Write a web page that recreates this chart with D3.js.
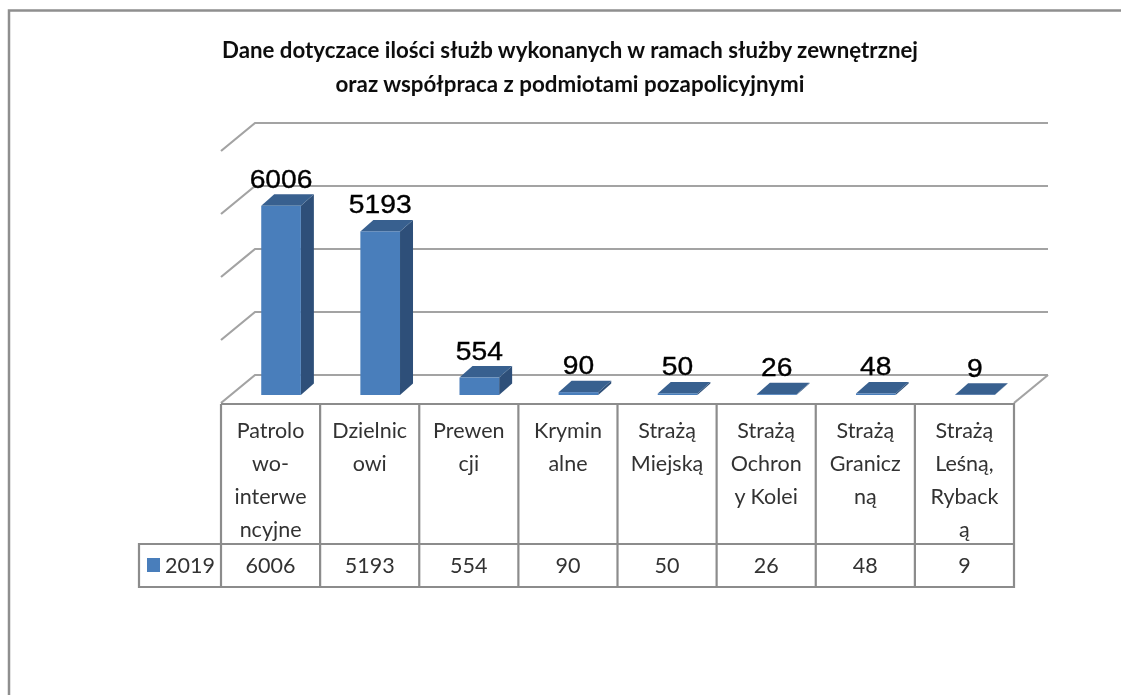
<!DOCTYPE html>
<html>
<head>
<meta charset="utf-8">
<script src="https://cdn.jsdelivr.net/npm/d3@7"></script>
<style>
    html, body { margin: 0; padding: 0; background: #fff; }
    svg { display: block; }
</style>
</head>
<body>
<script>
const categories = ["Patrolowo-interwencyjne", "Dzielnicowi", "Prewencji", "Kryminalne", "Strażą Miejską", "Strażą Ochrony Kolei", "Strażą Graniczną", "Strażą Leśną, Rybacką"];
const categoryLines = [
    ["Patrolo", "wo-", "interwe", "ncyjne"],
    ["Dzielnic", "owi"],
    ["Prewen", "cji"],
    ["Krymin", "alne"],
    ["Strażą", "Miejską"],
    ["Strażą", "Ochron", "y Kolei"],
    ["Strażą", "Granicz", "ną"],
    ["Strażą", "Leśną,", "Ryback", "ą"]
];
const values2019 = [6006, 5193, 554, 90, 50, 26, 48, 9];
const seriesName = "2019";
const titleLines = [
    "Dane dotyczace ilości służb wykonanych w ramach służby zewnętrznej",
    "oraz współpraca z podmiotami pozapolicyjnymi"
];
const gridValues = [0, 2000, 4000, 6000, 8000];

const width = 1121, height = 695;
const gridColor = "#a3a3a3", tableColor = "#8c8c8c";
const frontColor = "#4a7ebb", sideColor = "#2f5079", topColor = "#38608f";

const svg = d3.select("body").append("svg")
    .attr("width", width)
    .attr("height", height);

// the reference is a slightly soft scan
svg.append("filter")
    .attr("id", "soft")
    .attr("filterUnits", "userSpaceOnUse")
    .attr("x", 0).attr("y", 0)
    .attr("width", width).attr("height", height)
    .append("feGaussianBlur").attr("stdDeviation", 0.7);

const root = svg.append("g").attr("filter", "url(#soft)");

// scales
const tableX = d3.scaleBand().domain(categories).range([221, 1014]);
const barX = d3.scaleBand().domain(categories).range([231.5, 1024.5]).paddingInner(0.6).paddingOuter(0.3);
const wallY = d3.scaleLinear().domain([0, 8000]).range([375, 123]);
const barY = d3.scaleLinear().domain([0, 8000]).range([395, 143]);

const depthX = 34, depthY = -28;   // floor depth
const barDepthX = 13, barDepthY = -11.5;

// chart frame (only top and left are in the picture)
root.append("path")
    .attr("d", `M9,${height}V10.5H${width}`)
    .attr("fill", "none")
    .attr("stroke", "#8f8f8f")
    .attr("stroke-width", 2.5);

// title
root.selectAll(".title")
    .data(titleLines)
    .join("text")
    .attr("class", "title")
    .attr("x", 570)
    .attr("y", (d, i) => 58 + i * 33.5)
    .attr("text-anchor", "middle")
    .attr("font-family", "Lato")
    .attr("font-weight", 700)
    .attr("font-size", 22)
    .attr("fill", "#111")
    .attr("textLength", (d, i) => i === 0 ? 696 : 469)
    .attr("lengthAdjust", "spacingAndGlyphs")
    .text(d => d);

// gridlines on the wall + side wall diagonals
const x0 = tableX.range()[0], x1 = tableX.range()[1];
root.selectAll(".grid")
    .data(gridValues)
    .join("path")
    .attr("class", "grid")
    .attr("d", d => `M${x0},${wallY(d) - depthY}L${x0 + depthX},${wallY(d)}H${x1 + depthX}`)
    .attr("fill", "none")
    .attr("stroke", gridColor)
    .attr("stroke-width", 2.2);

// right edge of the floor
root.append("path")
    .attr("d", `M${x1 + depthX},${wallY(0)}L${x1},${wallY(0) - depthY}`)
    .attr("stroke", gridColor)
    .attr("stroke-width", 2.2);

// 3d bars
const bars = root.selectAll(".bar")
    .data(categories)
    .join("g")
    .attr("class", "bar");

bars.append("path") //side
    .attr("d", (d, i) => {
        const r = barX(d) + barX.bandwidth();
        const t = barY(values2019[i]), b = barY(0);
        return `M${r},${b}V${t}l${barDepthX},${barDepthY}V${b + barDepthY}Z`;
    })
    .attr("fill", sideColor);

bars.append("path") //top
    .attr("d", (d, i) => {
        const t = barY(values2019[i]);
        return `M${barX(d)},${t}l${barDepthX},${barDepthY}h${barX.bandwidth()}l${-barDepthX},${-barDepthY}Z`;
    })
    .attr("fill", topColor);

bars.append("rect") //front
    .attr("x", d => barX(d))
    .attr("y", (d, i) => barY(values2019[i]))
    .attr("width", barX.bandwidth())
    .attr("height", (d, i) => barY(0) - barY(values2019[i]))
    .attr("fill", frontColor);

// value labels above the bars, glyphs are stretched wide in the reference
root.selectAll(".valueLabel")
    .data(categories)
    .join("text")
    .attr("class", "valueLabel")
    .attr("transform", (d, i) => `translate(${barX(d) + barX.bandwidth() / 2},${barY(values2019[i]) - 18}) scale(1.13,1)`)
    .attr("text-anchor", "middle")
    .attr("font-family", "Liberation Sans")
    .attr("font-size", 25)
    .attr("fill", "#000")
    .attr("stroke", "#000")
    .attr("stroke-width", 0.35)
    .text((d, i) => values2019[i]);

// data table
const tableTop = 404, rowLine = 544, tableBottom = 587, legendLeft = 139;
const tableLines = root.append("g")
    .attr("fill", "none")
    .attr("stroke", tableColor)
    .attr("stroke-width", 2.2);

tableLines.append("path")
    .attr("d", `M${x0},${tableTop}H${x1}V${tableBottom}H${legendLeft}V${rowLine}H${x1}`);

tableLines.selectAll(".cellLine")
    .data(categories)
    .join("line")
    .attr("class", "cellLine")
    .attr("x1", d => tableX(d))
    .attr("x2", d => tableX(d))
    .attr("y1", tableTop)
    .attr("y2", tableBottom);

const tableFont = sel => sel
    .attr("font-family", "Lato")
    .attr("font-size", 21.5)
    .attr("fill", "#333")
    .attr("text-anchor", "middle");

//category names, wrapped the way the table wraps them
root.selectAll(".catLabel")
    .data(categories)
    .join("text")
    .attr("class", "catLabel")
    .call(tableFont)
    .each(function(d, i) {
        d3.select(this).selectAll("tspan")
            .data(categoryLines[i])
            .join("tspan")
            .attr("x", tableX(d) + tableX.bandwidth() / 2)
            .attr("y", (line, j) => 438 + j * 33)
            .text(line => line);
    });

root.selectAll(".cellValue")
    .data(categories)
    .join("text")
    .attr("class", "cellValue")
    .call(tableFont)
    .attr("x", d => tableX(d) + tableX.bandwidth() / 2)
    .attr("y", 573)
    .text((d, i) => values2019[i]);

// legend key
root.append("rect")
    .attr("x", 147)
    .attr("y", 558)
    .attr("width", 13)
    .attr("height", 14)
    .attr("fill", frontColor);

root.append("text")
    .call(tableFont)
    .attr("x", 190)
    .attr("y", 573)
    .text(seriesName);
</script>
</body>
</html>
